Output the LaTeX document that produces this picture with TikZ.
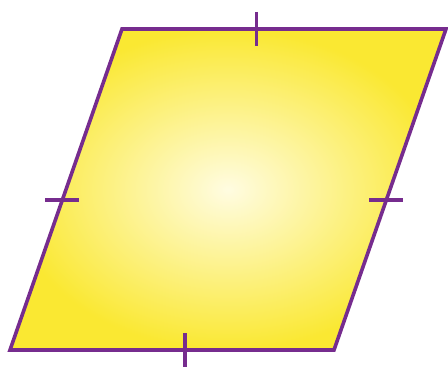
\documentclass[tikz,border=0pt]{standalone}
\usepackage{xcolor}
\usepackage{tikz}
\usetikzlibrary{calc}
\definecolor{rhombPurple}{RGB}{118,44,142}
\definecolor{rhombYellow}{RGB}{250,232,50}
\definecolor{rhombGlow}{RGB}{255,252,225}

\begin{document}
\begin{tikzpicture}[x=1pt,y=-1pt]
    \useasboundingbox (0,0) rectangle (448,369);

    % corners
    \coordinate (tl) at (122,29);
    \coordinate (tr) at (446,29);
    \coordinate (br) at (334,350);
    \coordinate (bl) at (10,350);

    % body
    \shade[inner color=rhombGlow, outer color=rhombYellow]
        (tl) -- (tr) -- (br) -- (bl) -- cycle;
    \draw[rhombPurple, line width=3.6pt, line join=miter]
        (tl) -- (tr) -- (br) -- (bl) -- cycle;

    % equal-side marks
    \draw[rhombPurple, line width=3.2pt] ($(tl)!0.415!(tr)$) ++(0,-17) -- ++(0,34);
    \draw[rhombPurple, line width=3.2pt] ($(bl)!0.54!(br)$) ++(0,-17) -- ++(0,34);
    \draw[rhombPurple, line width=3.2pt] ($(bl)!0.467!(tl)$) ++(-17,0) -- ++(34,0);
    \draw[rhombPurple, line width=3.2pt] ($(br)!0.467!(tr)$) ++(-17,0) -- ++(34,0);
\end{tikzpicture}
\end{document}
